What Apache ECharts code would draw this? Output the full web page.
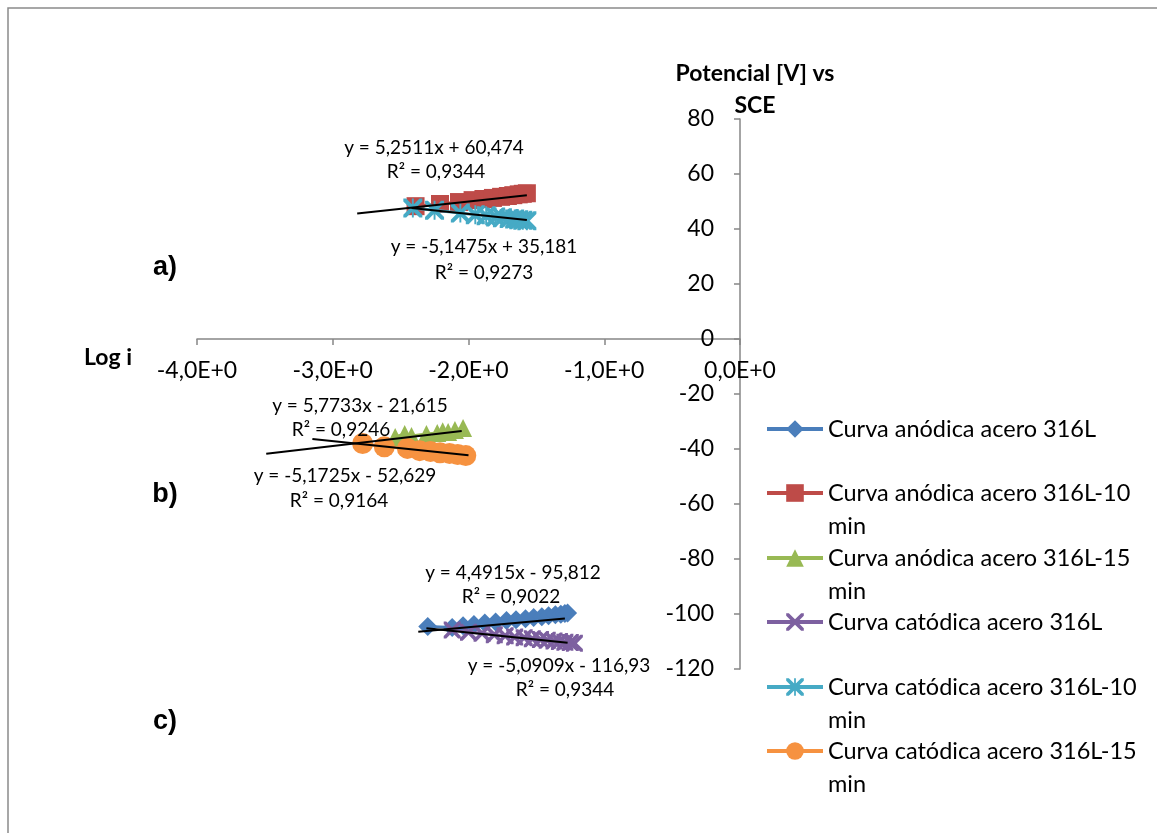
<!DOCTYPE html>
<html><head><meta charset="utf-8">
<script src="https://cdn.jsdelivr.net/npm/echarts@6/dist/echarts.min.js"></script>
<style>html,body{margin:0;padding:0;background:#fff}#c{width:1157px;height:833px}</style>
</head><body><div id="c"></div>
<script>
// ---------- data ----------
const seriesNames = [
  'Curva anódica acero 316L',
  'Curva anódica acero 316L-10 min',
  'Curva anódica acero 316L-15 min',
  'Curva catódica acero 316L',
  'Curva catódica acero 316L-10 min',
  'Curva catódica acero 316L-15 min'
];
// Log i values
const anod316L_x   = [-2.30,-2.12,-2.04,-1.96,-1.88,-1.80,-1.72,-1.65,-1.58,-1.52,-1.46,-1.41,-1.36,-1.32,-1.29,-1.27];
const anod316L_y   = [-104.5,-104.9,-104.3,-103.8,-103.3,-102.9,-102.4,-102.1,-101.7,-101.3,-101.0,-100.6,-100.3,-100.1,-99.8,-99.6];
const anod10_x     = [-2.39,-2.21,-2.07,-1.97,-1.89,-1.82,-1.76,-1.71,-1.67,-1.63,-1.60,-1.57];
const anod10_y     = [48.3,49.1,49.8,50.5,50.9,51.3,51.7,52.0,52.3,52.6,52.8,53.0];
const anod15_x     = [-2.54,-2.47,-2.42,-2.31,-2.23,-2.19,-2.15,-2.10,-2.04];
const anod15_y     = [-35.6,-34.5,-35.3,-34.5,-34.2,-33.5,-33.8,-33.1,-32.4];
const cat316L_x    = [-2.12,-2.00,-1.90,-1.81,-1.73,-1.66,-1.59,-1.53,-1.47,-1.42,-1.37,-1.33,-1.29,-1.25,-1.22];
const cat316L_y    = [-105.8,-106.6,-107.0,-107.5,-107.9,-108.4,-108.6,-109.0,-109.3,-109.5,-109.8,-110.0,-110.3,-110.4,-110.6];
const cat10_x      = [-2.41,-2.25,-2.06,-1.95,-1.87,-1.80,-1.75,-1.70,-1.66,-1.63,-1.60,-1.57];
const cat10_y      = [47.6,46.8,45.8,45.2,44.8,44.4,44.1,43.8,43.6,43.4,43.2,43.0];
const cat15_x      = [-2.78,-2.62,-2.45,-2.36,-2.28,-2.21,-2.14,-2.08,-2.02];
const cat15_y      = [-38.0,-39.2,-39.8,-40.6,-40.9,-41.4,-41.6,-42.0,-42.4];

// linear trendlines as printed on the chart (slope, intercept, x range)
const trendSlope     = [4.4915, 5.2511, 5.7733, -5.0909, -5.1475, -5.1725];
const trendIntercept = [-95.812, 60.474, -21.615, -116.93, 35.181, -52.629];
const trendFrom      = [-2.37, -2.82, -3.49, -2.31, -2.42, -3.15];
const trendTo        = [-1.29, -1.57, -2.05, -1.27, -1.57, -2.00];
const trendEqText    = ['y = 4,4915x - 95,812','y = 5,2511x + 60,474','y = 5,7733x - 21,615','y = -5,0909x - 116,93','y = -5,1475x + 35,181','y = -5,1725x - 52,629'];
const trendR2Text    = ['R² = 0,9022','R² = 0,9344','R² = 0,9246','R² = 0,9344','R² = 0,9273','R² = 0,9164'];

const xMin = -4, xMax = 0, xInterval = 1;
const yMin = -120, yMax = 80, yInterval = 20;

// ---------- styling ----------
const FONT = 'Lato';
const colors = ['#4A7EBB','#BE4B48','#98B954','#7D60A0','#46AAC5','#F69240'];
const symX = 'path://M0,0 L3,0 L10,7 L17,0 L20,0 L20,3 L13,10 L20,17 L20,20 L17,20 L10,13 L3,20 L0,20 L0,17 L7,10 L0,3 Z';
const symStar = 'path://M0,0 L3,0 L10,7 L17,0 L20,0 L20,3 L13,10 L20,17 L20,20 L17,20 L10,13 L3,20 L0,20 L0,17 L7,10 L0,3 Z M9,0 L11,0 L11,20 L9,20 Z';
const symbols = ['diamond','rect','triangle',symX,symStar,'circle'];
const symSizes = [19,18,18,17,19,21];
const xs = [anod316L_x, anod10_x, anod15_x, cat316L_x, cat10_x, cat15_x];
const ys = [anod316L_y, anod10_y, anod15_y, cat316L_y, cat10_y, cat15_y];

const series = [];
seriesNames.forEach((n, i) => {
  series.push({
    name: n, type: 'line',
    data: xs[i].map((x, k) => [x, ys[i][k]]),
    symbol: symbols[i], symbolSize: symSizes[i],
    showAllSymbol: true,
    lineStyle: {color: colors[i], width: 3},
    itemStyle: {color: colors[i], borderWidth: 0},
    z: 2 + i, silent: true, animation: false
  });
});
seriesNames.forEach((n, i) => {
  series.push({
    name: 'trend' + i, type: 'line',
    data: [[trendFrom[i], trendSlope[i] * trendFrom[i] + trendIntercept[i]],
           [trendTo[i], trendSlope[i] * trendTo[i] + trendIntercept[i]]],
    symbol: 'none', lineStyle: {color: '#000', width: 2},
    z: 20, silent: true, animation: false
  });
});

// legend: one block per item, icon aligned with first text line
const legendY = [429, 493, 558, 622, 687, 751];
const LH = 33;
const legends = seriesNames.map((n, i) => {
  const twoLine = / min$/.test(n);
  return {
    data: [n], orient: 'vertical', left: 765,
    top: twoLine ? legendY[i] - 1.5 * LH : legendY[i] - LH / 2,
    padding: 0, itemGap: 0, itemWidth: 56, itemHeight: 22,
    selectedMode: false,
    lineStyle: {width: 4},
    textStyle: {fontFamily: FONT, fontSize: 23.5, color: '#000', lineHeight: LH},
    formatter: (name) => twoLine ? '\n' + name.replace(/ min$/, '') + '\nmin' : name
  };
});

// label positions (pixels) for the trendline equations
const eqPos = [[513,573],[434,148],[360,406],[559,666],[484,247],[345,476]];
const r2Pos = [[511,597],[436,172],[341,430],[565,690],[484,273],[339,501]];
const graphics = [
  {type:'rect', shape:{x:8, y:8, width:1170, height:840}, style:{fill:'none', stroke:'#8a8a8a', lineWidth:1.5}, silent:true},
  {type:'text', style:{text:'Potencial [V] vs\nSCE', x:755, y:58, align:'center', verticalAlign:'top', font:'bold 23px ' + FONT, lineHeight:32, fill:'#000'}},
  {type:'text', style:{text:'Log i', x:108, y:358, align:'center', verticalAlign:'middle', font:'bold 23px ' + FONT, fill:'#000'}},
  {type:'text', style:{text:'a)', x:165, y:268, align:'center', verticalAlign:'middle', font:'bold 27px "Liberation Sans"', fill:'#000'}},
  {type:'text', style:{text:'b)', x:165, y:495, align:'center', verticalAlign:'middle', font:'bold 27px "Liberation Sans"', fill:'#000'}},
  {type:'text', style:{text:'c)', x:165, y:722, align:'center', verticalAlign:'middle', font:'bold 27px "Liberation Sans"', fill:'#000'}}
];
trendEqText.forEach((t, i) => {
  graphics.push({type:'text', z:30, style:{text:t, x:eqPos[i][0], y:eqPos[i][1], align:'center', verticalAlign:'middle', font:'19px ' + FONT, fill:'#000'}});
  graphics.push({type:'text', z:30, style:{text:trendR2Text[i], x:r2Pos[i][0], y:r2Pos[i][1], align:'center', verticalAlign:'middle', font:'19px ' + FONT, fill:'#000'}});
});

const gridTop = 119, gridBottom = 164, chartH = 833;
// pixel distance from grid bottom to the y = 0 line
const zeroOffset = (chartH - gridBottom - gridTop) * (0 - yMin) / (yMax - yMin);

const axisColor = '#868686';
const option = {
  animation: false,
  backgroundColor: '#fff',
  grid: {left: 197, right: 417, top: gridTop, bottom: gridBottom, containLabel: false},
  xAxis: {
    type: 'value', min: xMin, max: xMax, interval: xInterval,
    position: 'bottom', offset: -zeroOffset,
    axisLine: {onZero: false, lineStyle: {color: axisColor, width: 1.5}},
    axisTick: {show: true, length: 6, lineStyle: {color: axisColor, width: 1.5}},
    splitLine: {show: false},
    axisLabel: {margin: 20, fontFamily: FONT, fontSize: 23, color: '#000',
      showMinLabel: true, showMaxLabel: true, hideOverlap: false,
      formatter: v => v.toFixed(1).replace('.', ',') + 'E+0'}
  },
  yAxis: {
    type: 'value', min: yMin, max: yMax, interval: yInterval,
    position: 'right',
    axisLine: {show: true, onZero: false, lineStyle: {color: axisColor, width: 1.5}},
    axisTick: {show: true, inside: true, length: 6, lineStyle: {color: axisColor, width: 1.5}},
    splitLine: {show: false},
    axisLabel: {inside: true, margin: 26, fontFamily: FONT, fontSize: 23, color: '#000', hideOverlap: false}
  },
  legend: legends,
  graphic: graphics,
  series: series
};
const chart = echarts.init(document.getElementById('c'));
chart.setOption(option);
</script></body></html>
